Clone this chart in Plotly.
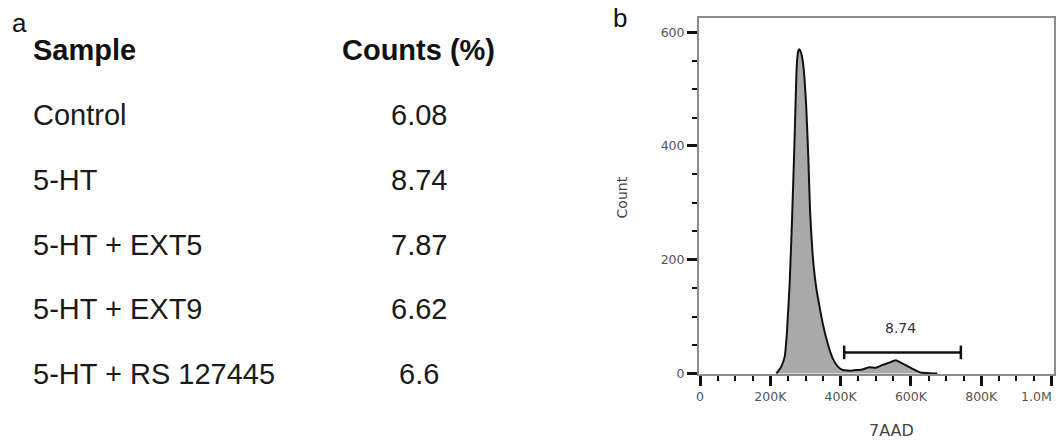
import plotly.graph_objects as go

# ---------------- data ----------------
samples = ["Control", "5-HT", "5-HT + EXT5", "5-HT + EXT9", "5-HT + RS 127445"]
counts_pct = ["6.08", "8.74", "7.87", "6.62", "6.6"]
header = ["Sample", "Counts (%)"]

# 7AAD histogram (5-HT sample), x in thousands
x_7aad = [217, 231, 241, 247, 255, 262, 268, 272, 275, 279, 282, 287, 292, 297,
          302, 308, 313, 318, 323, 330, 340, 349, 363, 377, 392, 406, 420, 434,
          448, 462, 481, 500, 519, 538, 557, 571, 590, 608, 627, 651, 675]
count_7aad = [0, 12, 30, 71, 159, 276, 393, 481, 540, 566, 570, 565, 550, 520,
              470, 380, 285, 230, 190, 153, 117, 88, 53, 27, 12, 6, 5, 5,
              6, 7, 11, 10, 15, 19, 23, 19, 13, 7, 1.5, 0.5, 0]

gate_lo, gate_hi, gate_y = 410, 742, 37
gate_label = "8.74"

x_tickvals = [0, 200, 400, 600, 800, 1000]
x_ticktext = ["0", "200K", "400K", "600K", "800K", "1.0M"]
y_tickvals = [0, 200, 400, 600]

# ---------------- layout geometry ----------------
FW, FH = 1063, 441
L, R, T, B = 699, 7, 18, 67
PW, PH = FW - L - R, FH - T - B


def px(xp):
    return (xp - L) / PW


def py(yp):
    return (FH - B - yp) / PH


fig = go.Figure()
fig.add_trace(go.Scatter(
    x=x_7aad, y=count_7aad, mode="lines",
    line=dict(color="#111111", width=2, shape="spline", smoothing=0.5),
    fill="tozeroy", fillcolor="#a9a9a9", hoverinfo="skip", showlegend=False))

# gate
fig.add_shape(type="line", xref="x", yref="y", x0=gate_lo, x1=gate_hi, y0=gate_y, y1=gate_y,
              line=dict(color="#111111", width=2.5))
for gx in (gate_lo, gate_hi):
    fig.add_shape(type="line", xref="x", yref="y", x0=gx, x1=gx, y0=gate_y - 12, y1=gate_y + 12,
                  line=dict(color="#111111", width=2.5))

tickfont = dict(family="DejaVu Sans", size=12.5, color="#555555")

ann = []
ann.append(dict(x=(gate_lo + gate_hi) / 2 - 5, y=gate_y + 43, xref="x", yref="y", text=gate_label,
                showarrow=False, font=dict(family="DejaVu Sans", size=14, color="#333333")))
# last x tick label sits flush with the frame (right-aligned)
ann.append(dict(x=1, y=py(396), xref="paper", yref="paper", text=x_ticktext[-1], xanchor="right",
                yanchor="middle", showarrow=False, font=tickfont))
# panel letters
pann = []
pann.append(dict(x=px(6), y=py(23), text="a", xanchor="left", yanchor="middle",
                 font=dict(family="Liberation Sans", size=26, color="#111111")))
pann.append(dict(x=px(611), y=py(18), text="b", xanchor="left", yanchor="middle",
                 font=dict(family="Liberation Sans", size=26, color="#111111")))
# table header
pann.append(dict(x=px(27), y=py(50), text="<b>%s</b>" % header[0], xanchor="left", yanchor="middle",
                 font=dict(family="Liberation Sans", size=29, color="#111111")))
pann.append(dict(x=px(417), y=py(50), text="<b>%s</b>" % header[1], xanchor="center", yanchor="middle",
                 font=dict(family="Liberation Sans", size=29, color="#111111")))
row_y0, row_dy = 115.5, 64.6
for i, (s, v) in enumerate(zip(samples, counts_pct)):
    yy = row_y0 + i * row_dy
    pann.append(dict(x=px(27), y=py(yy), text=s, xanchor="left", yanchor="middle",
                     font=dict(family="Liberation Sans", size=29, color="#1a1a1a")))
    pann.append(dict(x=px(417), y=py(yy), text=v, xanchor="center", yanchor="middle",
                     font=dict(family="Liberation Sans", size=29, color="#1a1a1a")))
# axis titles
pann.append(dict(x=px(622), y=py(197), text="Count", textangle=-90, xanchor="center", yanchor="middle",
                 font=dict(family="DejaVu Sans", size=14, color="#444444")))
pann.append(dict(x=px(893), y=py(430), text="7AAD", xanchor="center", yanchor="middle",
                 font=dict(family="DejaVu Sans", size=16, color="#444444")))
for a in pann:
    a.update(xref="paper", yref="paper", showarrow=False)

fig.update_layout(
    width=FW, height=FH, margin=dict(l=L, r=R, t=T, b=B, pad=0),
    paper_bgcolor="white", plot_bgcolor="white", annotations=ann + pann,
    xaxis=dict(range=[-3, 1007], tickvals=x_tickvals, ticktext=x_ticktext[:-1] + [""],
               ticks="outside", ticklen=10, tickwidth=3, tickcolor="#111111",
               minor=dict(ticks="outside", ticklen=5, tickwidth=2, tickcolor="#111111", dtick=50, tick0=0, showgrid=False),
               showline=True, linecolor="#8c8c8c", linewidth=2, mirror=True,
               showgrid=False, zeroline=False, tickfont=tickfont),
    yaxis=dict(range=[-1, 625], tickvals=y_tickvals,
               ticks="outside", ticklen=10, tickwidth=2.5, tickcolor="#111111",
               minor=dict(ticks="outside", ticklen=5, tickwidth=2, tickcolor="#111111", dtick=50, tick0=0, showgrid=False),
               showline=True, linecolor="#8c8c8c", linewidth=2, mirror=True,
               showgrid=False, zeroline=False, tickfont=tickfont),
)

fig.write_html("out.html", config={"displayModeBar": False},
               post_script="document.body.style.margin='0';document.body.style.overflow='hidden';")
